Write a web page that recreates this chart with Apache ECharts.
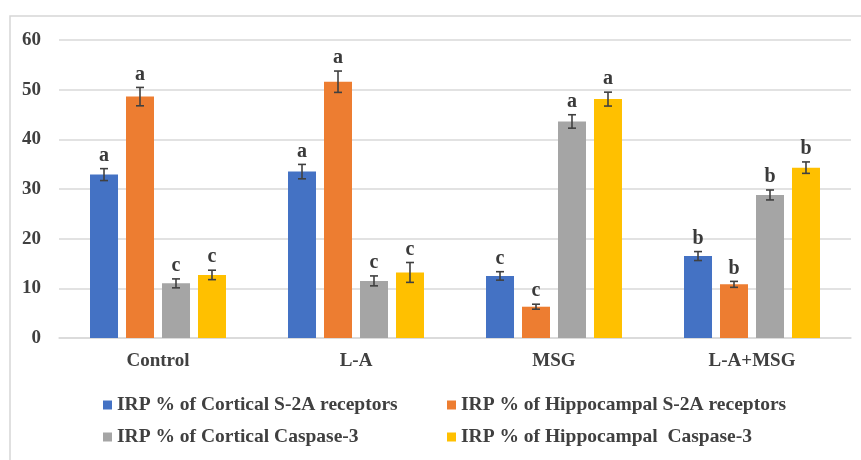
<!DOCTYPE html>
<html>
<head>
<meta charset="utf-8">
<script src="https://cdn.jsdelivr.net/npm/echarts@6/dist/echarts.min.js"></script>
<style>html,body{margin:0;padding:0;background:#fff}#c{width:861px;height:460px}</style>
</head>
<body>
<div id="c"></div>
<script>
const categories = ['Control', 'L-A', 'MSG', 'L-A+MSG'];
const seriesNames = ['IRP % of Cortical S-2A receptors', 'IRP % of Hippocampal S-2A receptors', 'IRP % of Cortical Caspase-3', 'IRP % of Hippocampal  Caspase-3'];
const corticalS2A = [32.9, 33.5, 12.5, 16.5];
const hippoS2A = [48.6, 51.6, 6.3, 10.8];
const corticalCasp = [11.0, 11.5, 43.6, 28.8];
const hippoCasp = [12.7, 13.2, 48.1, 34.3];
const corticalS2AErr = [1.2, 1.45, 0.85, 0.9];
const hippoS2AErr = [1.85, 2.15, 0.5, 0.6];
const corticalCaspErr = [0.9, 1.0, 1.35, 1.0];
const hippoCaspErr = [0.95, 2.0, 1.4, 1.15];
const corticalS2ALetters = ['a', 'a', 'c', 'b'];
const hippoS2ALetters = ['a', 'a', 'c', 'b'];
const corticalCaspLetters = ['c', 'c', 'a', 'b'];
const hippoCaspLetters = ['c', 'c', 'a', 'b'];
const yTicks = [0, 10, 20, 30, 40, 50, 60];

const values = [corticalS2A, hippoS2A, corticalCasp, hippoCasp];
const errs = [corticalS2AErr, hippoS2AErr, corticalCaspErr, hippoCaspErr];
const letters = [corticalS2ALetters, hippoS2ALetters, corticalCaspLetters, hippoCaspLetters];
const colors = ['#4472C4', '#ED7D31', '#A5A5A5', '#FFC000'];
const font = '"Liberation Serif", "Times New Roman", serif';
const BAR_FRAC = 0.1414, GAP_FRAC = 0.0404;

const series = [];
values.forEach((vals, i) => {
  series.push({
    name: seriesNames[i], type: 'bar', data: vals,
    barWidth: (BAR_FRAC * 100) + '%', barGap: (GAP_FRAC / BAR_FRAC * 100) + '%',
    itemStyle: { color: colors[i] }, z: 2
  });
});
values.forEach((vals, i) => {
  series.push({
    type: 'custom', z: 5, silent: true,
    data: vals.map((v, k) => [k, v, errs[i][k]]),
    renderItem: function (params, api) {
      const k = api.value(0), v = api.value(1), e = api.value(2);
      const bw = api.size([1, 0])[0];
      const off = (i - 1.5) * (BAR_FRAC + GAP_FRAC) * bw;
      const top = api.coord([k, v + e]);
      const bot = api.coord([k, v - e]);
      const x = top[0] + off;
      const cap = 4;
      const st = { stroke: '#404040', lineWidth: 1.6 };
      return {
        type: 'group', children: [
          { type: 'line', shape: { x1: x, y1: top[1], x2: x, y2: bot[1] }, style: st },
          { type: 'line', shape: { x1: x - cap, y1: top[1], x2: x + cap, y2: top[1] }, style: st },
          { type: 'line', shape: { x1: x - cap, y1: bot[1], x2: x + cap, y2: bot[1] }, style: st },
          { type: 'text', x: x, y: top[1] - 3, style: { text: letters[i][k], fill: '#3a3a3a', font: 'bold 20px ' + font, textAlign: 'center', textVerticalAlign: 'bottom' } }
        ]
      };
    }
  });
});

const legendText = { fontFamily: font, fontWeight: 'bold', fontSize: 19.5, color: '#404040' };
const chart = echarts.init(document.getElementById('c'));
chart.setOption({
  animation: false,
  backgroundColor: '#fff',
  graphic: [{ type: 'rect', shape: { x: 10, y: 16, width: 900, height: 500 }, style: { fill: 'none', stroke: '#d6d6d6', lineWidth: 1.5 }, z: 0 }],
  grid: { left: 59, right: 10, top: 40, bottom: 122 },
  legend: [
    { data: [seriesNames[0], seriesNames[2]], orient: 'vertical', left: 98, top: 390, itemGap: 12, itemWidth: 9, itemHeight: 9, icon: 'rect', textStyle: legendText },
    { data: [seriesNames[1], seriesNames[3]], orient: 'vertical', left: 442, top: 390, itemGap: 12, itemWidth: 9, itemHeight: 9, icon: 'rect', textStyle: legendText }
  ],
  xAxis: {
    type: 'category', data: categories,
    axisLine: { lineStyle: { color: '#d9d9d9', width: 1.5 } },
    axisTick: { show: false },
    axisLabel: { fontFamily: font, fontWeight: 'bold', fontSize: 19, color: '#404040', margin: 14 }
  },
  yAxis: {
    type: 'value', min: yTicks[0], max: yTicks[yTicks.length - 1], interval: 10,
    axisLine: { show: false }, axisTick: { show: false },
    splitLine: { lineStyle: { color: '#d9d9d9', width: 1.5 } },
    axisLabel: { fontFamily: font, fontWeight: 'bold', fontSize: 19, color: '#404040', margin: 18 }
  },
  series: series
});
</script>
</body>
</html>
